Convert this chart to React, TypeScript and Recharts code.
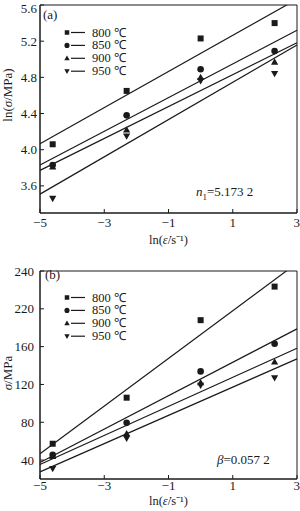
import React from "react";
import {
  ComposedChart,
  Scatter,
  Line,
  XAxis,
  YAxis,
  ReferenceArea,
  Legend,
  Label,
} from "recharts";

const temps = ["800 ℃", "850 ℃", "900 ℃", "950 ℃"];
const markers = ["square", "circle", "up", "down"];
const lnRate = [-4.605, -2.303, 0, 2.303];
const xTicks = [-5, -3, -1, 1, 3];

// (a) ln(sigma / MPa)
const lnSigma800 = [4.06, 4.65, 5.23, 5.4];
const lnSigma850 = [3.83, 4.38, 4.89, 5.09];
const lnSigma900 = [3.81, 4.22, 4.8, 4.97];
const lnSigma950 = [3.46, 4.15, 4.76, 4.84];
const yTicksA = [3.6, 4.0, 4.4, 4.8, 5.2, 5.6];

// (b) sigma / MPa
const sigma800 = [57.3, 106, 188, 223.5];
const sigma850 = [45.5, 79.4, 133.8, 163];
const sigma900 = [44, 68, 122, 144];
const sigma950 = [31, 63, 119, 127];
const yTicksB = [40, 80, 120, 160, 200, 240];
const yTickLabelsB = ["40", "80", "120", "160", "220", "240"];

const FONT = "'Liberation Serif', 'Times New Roman', serif";
const INK = "#1a1a1a";

const toPoints = (ys: number[]) => lnRate.map((x, i) => ({ x, y: ys[i] }));

// least squares fit through the measured points
const fitLine = (ys: number[]) => {
  const mx = lnRate.reduce((s, v) => s + v, 0) / lnRate.length;
  const my = ys.reduce((s, v) => s + v, 0) / ys.length;
  let sxy = 0;
  let sxx = 0;
  lnRate.forEach((x, i) => {
    sxy += (x - mx) * (ys[i] - my);
    sxx += (x - mx) * (x - mx);
  });
  const slope = sxy / sxx;
  return [-5, 3].map((x) => ({ x, y: my + slope * (x - mx) }));
};

const drawMarker = (kind: string, cx: number, cy: number, s: number) => {
  if (kind === "square")
    return <rect x={cx - s / 2} y={cy - s / 2} width={s} height={s} fill={INK} />;
  if (kind === "circle") return <circle cx={cx} cy={cy} r={s / 2 + 0.3} fill={INK} />;
  if (kind === "up")
    return (
      <polygon
        points={`${cx},${cy - s * 0.6} ${cx - s * 0.6},${cy + s * 0.45} ${cx + s * 0.6},${cy + s * 0.45}`}
        fill={INK}
      />
    );
  return (
    <polygon
      points={`${cx},${cy + s * 0.6} ${cx - s * 0.6},${cy - s * 0.45} ${cx + s * 0.6},${cy - s * 0.45}`}
      fill={INK}
    />
  );
};

const minus = (v: number) => String(v).replace("-", "−");

const LegendBox = () => (
  <svg width={80} height={54} style={{ display: "block" }}>
    {temps.map((t, i) => {
      const cy = 6.5 + i * 12.9;
      return (
        <g key={t}>
          {drawMarker(markers[i], 5, cy, 4.5)}
          <line x1={9} x2={23} y1={cy} y2={cy} stroke={INK} strokeWidth={1.2} />
          <text x={30} y={cy} dominantBaseline="central" fontFamily={FONT} fontSize={12.5} fill={INK}>
            {t}
          </text>
        </g>
      );
    })}
  </svg>
);

const xTitle = (dy: number) => (props: any) => {
  const { x, y, width } = props.viewBox;
  return (
    <text x={x + width / 2} y={y + dy} textAnchor="middle" fontFamily={FONT} fontSize={12.5} fill={INK}>
      ln(<tspan fontStyle="italic">ε̇</tspan>/s⁻¹)
    </text>
  );
};

const yTitle = (cy: number, content: React.ReactNode) => () => (
  <text
    x={12}
    y={cy}
    transform={`rotate(-90 12 ${cy})`}
    textAnchor="middle"
    fontFamily={FONT}
    fontSize={13}
    fill={INK}
  >
    {content}
  </text>
);

const seriesA = [lnSigma800, lnSigma850, lnSigma900, lnSigma950];
const seriesB = [sigma800, sigma850, sigma900, sigma950];

const tickStyle = { fontFamily: FONT, fontSize: 13, fill: INK };

const Panel = ({
  series,
  height,
  top,
  xAxisHeight,
  yDomain,
  yTicks,
  yFormat,
  xMargin,
  yMargin,
  xTitleDy,
  yTitleNode,
  yTitleY,
  legendTop,
}: any) => (
  <ComposedChart
    width={300}
    height={height}
    margin={{ top, right: 3, bottom: 0, left: 0 }}
  >
    <XAxis
      dataKey="x"
      type="number"
      domain={[-5, 3]}
      ticks={xTicks}
      tickFormatter={minus}
      height={xAxisHeight}
      tickSize={-4}
      tickMargin={xMargin}
      tick={tickStyle}
      stroke={INK}
      label={<Label content={xTitle(xTitleDy)} />}
    />
    <YAxis
      dataKey="y"
      type="number"
      domain={yDomain}
      allowDataOverflow
      ticks={yTicks}
      tickFormatter={yFormat}
      width={40}
      tickSize={-4}
      tickMargin={yMargin}
      tick={tickStyle}
      stroke={INK}
      label={<Label content={yTitle(yTitleY, yTitleNode)} />}
    />
    <ReferenceArea x1={-5} x2={3} y1={yDomain[0]} y2={yDomain[1]} fill="none" stroke={INK} strokeWidth={1} />
    {series.map((ys: number[], i: number) => (
      <Line
        key={"fit" + i}
        data={fitLine(ys)}
        dataKey="y"
        type="linear"
        dot={false}
        stroke={INK}
        strokeWidth={1.2}
        isAnimationActive={false}
        legendType="none"
      />
    ))}
    {series.map((ys: number[], i: number) => (
      <Scatter
        key={"pts" + i}
        name={temps[i]}
        data={toPoints(ys)}
        dataKey="y"
        isAnimationActive={false}
        shape={(p: any) => drawMarker(markers[i], p.cx, p.cy, 6)}
      />
    ))}
    <Legend
      layout="vertical"
      align="center"
      verticalAlign="middle"
      content={() => <LegendBox />}
      wrapperStyle={{ left: 62, top: legendTop, width: 80, height: 54 }}
    />
  </ComposedChart>
);

const App = () => (
  <div style={{ position: "absolute", left: 0, top: 0, width: 300, height: 511, background: "#fff" }}>
    <div style={{ position: "absolute", left: 0, top: 0 }}>
      <Panel
        series={seriesA}
        height={250}
        top={5}
        xAxisHeight={37}
        yDomain={[3.3, 5.6]}
        yTicks={yTicksA}
        yFormat={(v: number) => v.toFixed(1)}
        xMargin={8.5}
        yMargin={7}
        xTitleDy={31}
        yTitleNode={
          <>
            ln(<tspan fontStyle="italic">σ</tspan>/MPa)
          </>
        }
        yTitleY={95}
        legendTop={26}
      />
    </div>
    <div style={{ position: "absolute", left: 0, top: 250 }}>
      <Panel
        series={seriesB}
        height={261}
        top={21}
        xAxisHeight={32}
        yDomain={[20, 240]}
        yTicks={yTicksB}
        yFormat={(v: number) => yTickLabelsB[yTicksB.indexOf(v)] ?? String(v)}
        xMargin={5.5}
        yMargin={10}
        xTitleDy={25.5}
        yTitleNode={
          <>
            <tspan fontStyle="italic">σ</tspan>/MPa
          </>
        }
        yTitleY={123}
        legendTop={41}
      />
    </div>
    <div style={{ position: "absolute", left: 43, top: 7, font: `13px ${FONT}`, color: INK }}>(a)</div>
    <div style={{ position: "absolute", left: 196, top: 184, font: `13px ${FONT}`, color: INK }}>
      <i>n</i>
      <sub style={{ fontSize: 9 }}>1</sub>=5.173 2
    </div>
    <div style={{ position: "absolute", left: 45, top: 267, font: `13px ${FONT}`, color: INK }}>(b)</div>
    <div style={{ position: "absolute", left: 217, top: 452, font: `13px ${FONT}`, color: INK }}>
      <i>β</i>=0.057 2
    </div>
  </div>
);

export default App;
